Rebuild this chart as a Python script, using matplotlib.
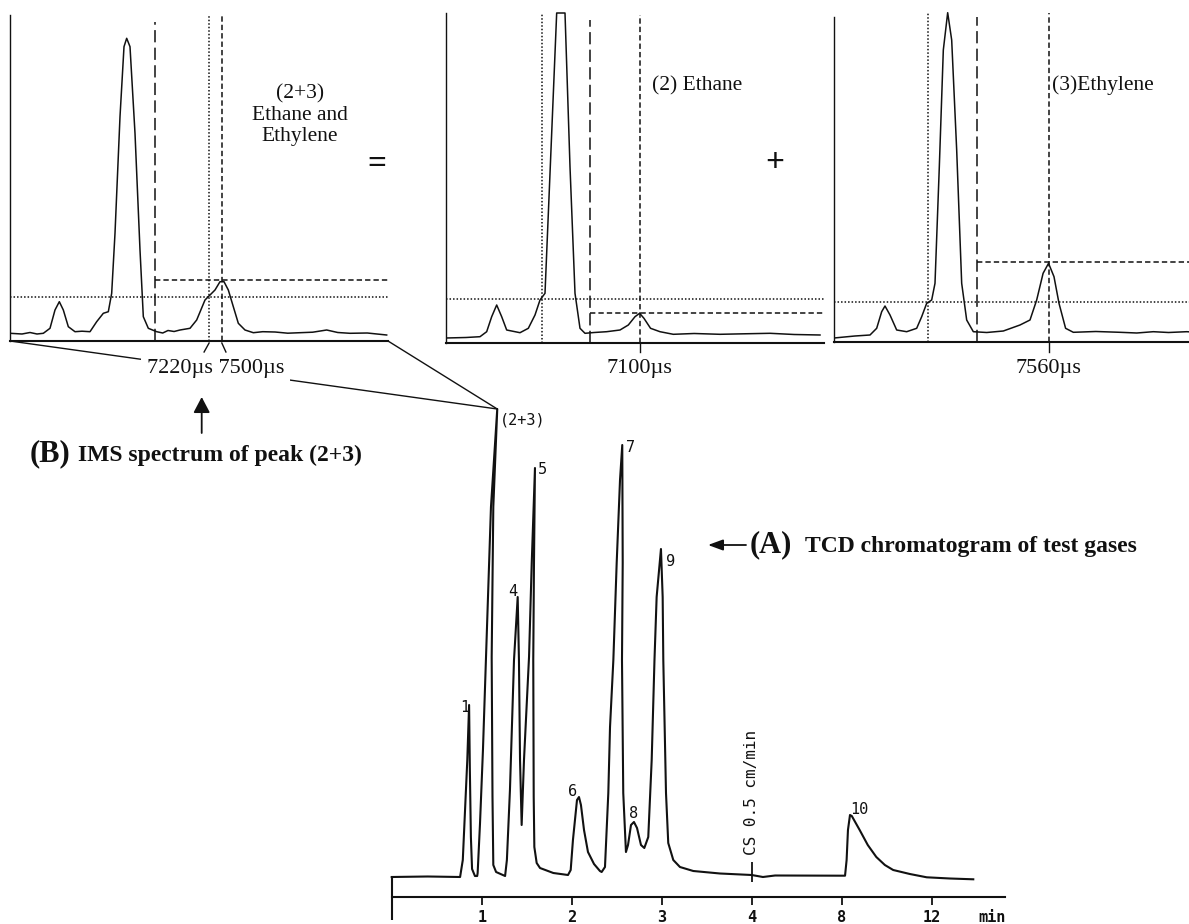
import numpy as np
import matplotlib
matplotlib.use("Agg")
import matplotlib.pyplot as plt
from matplotlib.patches import ConnectionPatch, FancyArrowPatch

W, H = 1189, 924
INK = "#111111"
SERIF = "Liberation Serif"
MONO = "DejaVu Sans Mono"

# ---- (A) TCD chromatogram: retention time (min) vs detector signal (a.u.)
tcd_time = [0.00, 0.40, 0.76, 0.79, 0.84, 0.86, 0.868, 0.88, 0.893, 0.925,
            0.95, 0.955, 0.981, 1.014, 1.048, 1.103, 1.173, 1.129, 1.111, 1.12,
            1.129, 1.16, 1.26, 1.28, 1.314, 1.359, 1.40, 1.414, 1.426, 1.444,
            1.47, 1.526, 1.556, 1.592, 1.581, 1.573, 1.578, 1.585, 1.611, 1.648,
            1.796, 1.959, 1.989, 2.014, 2.059, 2.081, 2.103, 2.137, 2.181, 2.248,
            2.314, 2.333, 2.37, 2.407, 2.426, 2.463, 2.50, 2.537, 2.562, 2.567,
            2.559, 2.573, 2.603, 2.626, 2.659, 2.692, 2.726, 2.77, 2.807, 2.851,
            2.889, 2.92, 2.944, 2.992, 3.011, 3.018, 3.048, 3.073, 3.129, 3.203,
            3.351, 3.648, 4.0, 4.5, 5.04, 8.15, 8.22, 8.28, 8.37, 8.45,
            8.8, 9.16, 9.54, 9.92, 10.29, 11.03, 11.78, 12.81, 13.85]
tcd_signal = [0, 0.5, 0, 17, 117, 172, 110, 40, 8, 1,
              1, 4, 53, 127, 220, 370, 468, 370, 220, 80,
              12, 5, 1, 17, 87, 217, 280, 217, 117, 52,
              117, 220, 314, 409, 314, 217, 80, 30, 14, 9,
              4, 2, 7, 37, 77, 80, 72, 47, 25, 13,
              6, 5, 10, 84, 150, 217, 314, 397, 432, 314,
              217, 84, 25, 32, 52, 55, 49, 32, 29, 40,
              117, 217, 280, 328, 280, 217, 84, 34, 17, 10,
              6, 3.5, 2, 0, 1.5, 1.3, 17, 47, 62, 61,
              47, 32, 20, 12, 7, 3, -0.3, -1.5, -2.3]
peak_labels = ["1", "(2+3)", "4", "5", "6", "7", "8", "9", "10"]
peak_time = [0.86, 1.173, 1.40, 1.592, 2.081, 2.562, 2.692, 2.992, 8.37]
peak_signal = [172, 468, 280, 409, 80, 432, 55, 328, 62]
time_ticks = [1, 2, 3, 4, 8, 12]
speed_change = 4.0      # chart speed drops to 0.5 cm/min after 4 min
speed_ratio = 4.0

# ---- (B) IMS spectra: drift time (µs) vs intensity (a.u.)
mix_drift = [2840, 3104, 3280, 3434, 3573, 3720, 3830, 3925, 4013, 4123,
             4270, 4424, 4600, 4747, 4893, 5003, 5077, 5150, 5260, 5348,
             5407, 5480, 5590, 5700, 5773, 5883, 6067, 6200, 6316, 6450,
             6580, 6800, 6947, 7130, 7240, 7350, 7460, 7548, 7643, 7753,
             7863, 8010, 8193, 8400, 8670, 8950, 9220, 9500, 9807, 10050,
             10320, 10700, 11127]
mix_int = [7.7, 7.0, 8.5, 7.0, 7.7, 12.7, 31.0, 39.3, 31.0, 14.3,
           9.3, 9.8, 9.3, 19.3, 27.7, 29.3, 47.7, 107.7, 224.3, 294.3,
           302.7, 294.3, 207.7, 91.0, 24.3, 12.7, 9.3, 8.0, 10.5, 9.5,
           11.0, 12.7, 21.0, 41.0, 46.0, 51.0, 59.3, 59.3, 51.0, 34.3,
           17.7, 11.0, 8.3, 9.3, 9.0, 7.8, 8.3, 8.8, 11.0, 8.5,
           7.7, 8.0, 6.0]

ethane_drift = [2840, 3280, 3588, 3735, 3845, 3955, 4065, 4175, 4468, 4651,
                4798, 4908, 5018, 5165, 5275, 5458, 5568, 5678, 5788, 5898,
                6100, 6375, 6668, 6851, 6998, 7100, 7195, 7340, 7548, 7841,
                8300, 8868, 9400, 9968, 10500, 11068]
ethane_int = [5.0, 5.5, 6.3, 11.3, 26.3, 38.0, 26.3, 13.0, 10.3, 14.7,
              28.0, 43.0, 49.7, 209.7, 330, 330, 176.3, 49.7, 14.7, 9.7,
              10.5, 11.3, 13.0, 18.0, 26.3, 29.7, 24.7, 14.7, 11.3, 8.7,
              9.5, 8.7, 9.2, 9.7, 8.5, 8.0]

ethylene_drift = [2840, 3300, 3632, 3779, 3889, 3962, 4072, 4219, 4439, 4659,
                  4769, 4879, 4989, 5062, 5157, 5245, 5341, 5429, 5539, 5649,
                  5759, 5905, 6200, 6565, 6932, 7152, 7299, 7440, 7560, 7680,
                  7790, 7935, 8105, 8600, 9132, 9500, 9865, 10200, 10599, 11112]
ethylene_int = [4.0, 6.0, 7.0, 13.7, 30.3, 36.0, 27.0, 12.0, 10.3, 13.7,
                25.3, 38.7, 42.0, 58.7, 175.3, 292.0, 329.3, 302.0, 192.0, 58.7,
                22.0, 10.3, 9.5, 11.0, 17.0, 22.0, 42.0, 68.7, 78.7, 65.3,
                38.7, 13.7, 9.7, 10.5, 9.7, 9.0, 10.3, 9.5, 10.3, 9.0]

# gate / marker drift times (µs) and threshold levels
mix_gates = [6030, 7220, 7500]
mix_levels = [44, 61]
ethane_gates = [4959, 6008, 7100]
ethane_levels = [44, 29.7]
ethylene_gates = [4915, 5979, 7560]
ethylene_levels = [40.3, 79.7]
drift_window = (2840, 11156)

DOT = (0, (1, 1.3))
SHORT = (0, (3.5, 2))
LONG = (0, (8, 3.5))

fig = plt.figure(figsize=(W / 100, H / 100), dpi=100)
fig.patch.set_facecolor("white")


def ims_panel(left, base, spine_top, drift, inten, gates, gate_styles,
              gate_tops, levels):
    ax = fig.add_axes([left / W, 1 - base / H, 378 / W, (base - 10) / H])
    ax.set_facecolor("none")
    ax.set_xlim(*drift_window)
    ax.set_ylim(0, base - 10)
    for s in ("top", "right"):
        ax.spines[s].set_visible(False)
    ax.spines["left"].set_bounds(0, base - spine_top)
    ax.spines["left"].set_linewidth(1.0)
    ax.spines["bottom"].set_linewidth(1.5)
    for s in ("left", "bottom"):
        ax.spines[s].set_color(INK)
    ax.set_xticks([])
    ax.set_yticks([])
    ax.plot(drift, inten, color=INK, lw=1.1)
    for g, st, top in zip(gates, gate_styles, gate_tops):
        ax.plot([g, g], [0, top], color=INK, lw=1.1, ls=st, clip_on=False)
    # threshold (dotted, full width) and peak-height (dashed, from the gate)
    ax.plot(drift_window, [levels[0]] * 2, color=INK, lw=1.1, ls=DOT)
    gate = gates[gate_styles.index(LONG)]
    ax.plot([gate, drift_window[1]], [levels[1]] * 2, color=INK, lw=1.1,
            ls=SHORT)
    return ax


ax1 = ims_panel(10, 341, 15, mix_drift, mix_int, mix_gates,
                [LONG, DOT, SHORT], [319, 326, 326], mix_levels)
ax2 = ims_panel(446, 343, 13, ethane_drift, ethane_int, ethane_gates,
                [DOT, LONG, SHORT], [329, 323, 328], ethane_levels)
ax3 = ims_panel(834, 342, 17, ethylene_drift, ethylene_int, ethylene_gates,
                [DOT, LONG, SHORT], [330, 325, 329], ethylene_levels)

# labels under the IMS panels
ax1.plot([mix_gates[1], mix_gates[1] - 110], [-2, -11], color=INK, lw=1.0,
         clip_on=False, zorder=4)
ax1.plot([mix_gates[2], mix_gates[2] + 90], [-2, -11], color=INK, lw=1.0,
         clip_on=False, zorder=4)
ax1.annotate("7220\u00b5s 7500\u00b5s", xy=(np.mean(mix_gates[1:]), 0),
             xytext=(0, -27), textcoords="offset pixels", ha="center",
             va="center", fontsize=16, family=SERIF, color=INK, zorder=3,
             bbox=dict(boxstyle="square,pad=0.25", fc="white", ec="none"))
ax2.plot([ethane_gates[2]] * 2, [0, -9], color=INK, lw=1.0, clip_on=False)
ax2.annotate("7100\u00b5s", xy=(ethane_gates[2], 0), xytext=(0, -25),
             textcoords="offset pixels", ha="center", va="center",
             fontsize=16, family=SERIF, color=INK)
ax3.plot([ethylene_gates[2]] * 2, [0, -10], color=INK, lw=1.0, clip_on=False)
ax3.annotate("7560\u00b5s", xy=(ethylene_gates[2], 0), xytext=(0, -26),
             textcoords="offset pixels", ha="center", va="center",
             fontsize=16, family=SERIF, color=INK)

ax1.text(9220, 226, "(2+3)\nEthane and\nEthylene", ha="center", va="center",
         fontsize=15.5, family=SERIF, color=INK, linespacing=1.17)
ax2.text(7372, 257, "(2) Ethane", ha="left", va="center", fontsize=15.5,
         family=SERIF, color=INK)
ax3.text(7629, 257, "(3)Ethylene", ha="left", va="center", fontsize=15.5,
         family=SERIF, color=INK)


# ---- chromatogram with the chart-speed change at 4 min
def fwd(t):
    t = np.asarray(t, float)
    return np.where(t <= speed_change, t,
                    speed_change + (t - speed_change) / speed_ratio)


def inv(p):
    p = np.asarray(p, float)
    return np.where(p <= speed_change, p,
                    speed_change + (p - speed_change) * speed_ratio)


axc = fig.add_axes([391.7 / W, 0, 613.3 / W, 544 / H])
axc.set_facecolor("none")
axc.set_xscale("function", functions=(fwd, inv))
axc.set_xlim(0, 15.26)
axc.set_ylim(-47, 497)
for s in ("top", "right", "left"):
    axc.spines[s].set_visible(False)
axc.spines["bottom"].set_position(("data", -20))
axc.spines["bottom"].set_linewidth(1.5)
axc.spines["bottom"].set_color(INK)
axc.set_yticks([])
axc.set_xticks(time_ticks, [str(t) for t in time_ticks])
axc.set_xticks([14.67], ["min"], minor=True)
axc.tick_params(axis="x", which="major", direction="out", length=5.8,
                width=1.3, pad=3.4, colors=INK, labelsize=11)
axc.tick_params(axis="x", which="minor", length=0, pad=9.2, colors=INK,
                labelsize=11)
for lab in axc.get_xticklabels(which="both"):
    lab.set_family(MONO)
    lab.set_fontweight("bold")

axc.plot(tcd_time, tcd_signal, color=INK, lw=1.5, clip_on=False)
axc.vlines(0, -43, 0, color=INK, lw=1.5, clip_on=False)
axc.vlines(speed_change, -5, 15, color=INK, lw=1.3)
axc.text(speed_change, 22, "CS 0.5 cm/min", rotation=90, ha="center",
         va="bottom", fontsize=11.5, family=MONO, color=INK)

label_offsets = [(-4, -3), (25, -11), (-5, 6), (7, -2), (-6, 5), (8, -2),
                 (0, 9), (10, -13), (9, 5)]
for name, t, s, off in zip(peak_labels, peak_time, peak_signal, label_offsets):
    axc.annotate(name, xy=(t, s), xytext=off, textcoords="offset pixels",
                 ha="center", va="center", fontsize=11, family=MONO,
                 color=INK)

# connectors from the IMS spectrum to the (2+3) peak apex
apex = int(np.argmax(tcd_signal))
for xa in drift_window:
    con = ConnectionPatch(xyA=(xa, 0), coordsA=ax1.transData,
                          xyB=(tcd_time[apex], tcd_signal[apex]),
                          coordsB=axc.transData, color=INK, lw=1.0, zorder=1)
    ax1.add_artist(con)
    con.set_clip_on(False)


# ---- free annotations (figure pixels)
def fx(x):
    return x / W


def fy(y):
    return 1 - y / H


fig.text(fx(377), fy(165), "=", fontsize=24, weight="bold", family=SERIF,
         color=INK, ha="center", va="center")
fig.text(fx(775), fy(163), "+", fontsize=24, weight="bold", family=SERIF,
         color=INK, ha="center", va="center")

fig.text(fx(30), fy(461), "(B)", fontsize=22, weight="bold", family=SERIF,
         color=INK, va="baseline")
fig.text(fx(78), fy(461), "IMS spectrum of peak (2+3)", fontsize=17,
         weight="bold", family=SERIF, color=INK, va="baseline")
fig.text(fx(750), fy(552), "(A)", fontsize=22, weight="bold", family=SERIF,
         color=INK, va="baseline")
fig.text(fx(805), fy(552), "TCD chromatogram of test gases", fontsize=17,
         weight="bold", family=SERIF, color=INK, va="baseline")

fig.add_artist(FancyArrowPatch((fx(201.7), fy(433)), (fx(201.7), fy(397)),
                               transform=fig.transFigure,
                               arrowstyle="-|>,head_length=0.95,head_width=0.5",
                               mutation_scale=10, lw=1.3, color=INK,
                               shrinkA=0, shrinkB=0))
fig.add_artist(FancyArrowPatch((fx(746), fy(545)), (fx(708), fy(545)),
                               transform=fig.transFigure,
                               arrowstyle="-|>,head_length=0.9,head_width=0.33",
                               mutation_scale=10, lw=1.3, color=INK,
                               shrinkA=0, shrinkB=0))

fig.savefig("out.png", dpi=100)
